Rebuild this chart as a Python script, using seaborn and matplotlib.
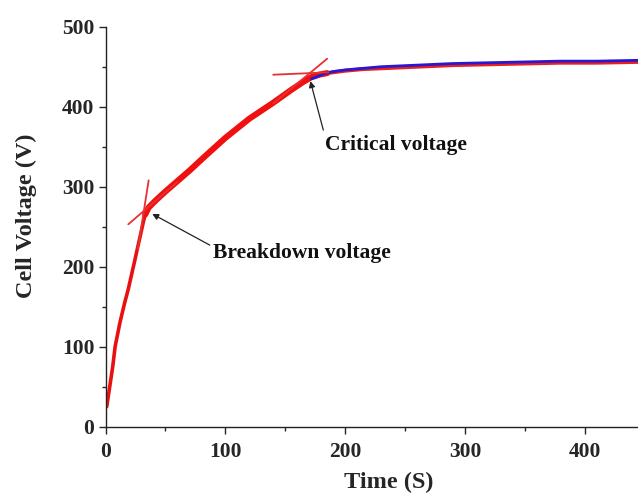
import matplotlib
matplotlib.use("Agg")
import matplotlib.pyplot as plt
import seaborn as sns
import pandas as pd
from matplotlib.ticker import MultipleLocator

# Data
red_time = [1, 3, 6, 8, 12, 16, 19, 24, 28, 31, 33, 36, 42, 50, 60, 70, 83, 100, 120, 140, 155, 165, 172,
            178, 185, 200, 215, 230, 260, 290, 320, 350, 380, 410, 445]
red_volt = [25, 45, 75, 100, 130, 155, 172, 205, 232, 252, 265, 274, 283, 294, 307, 320, 338, 361, 385, 405, 421, 431, 437,
            440, 442, 445, 447, 448, 450, 452, 453, 454, 455, 455, 456]
blue_time = [172, 176, 182, 190, 200, 215, 230, 260, 290, 320, 350, 380, 410, 445]
blue_volt = [435, 437, 441, 444, 446, 448, 450, 452, 454, 455, 456, 457, 457, 458]

# tangent construction lines (time, voltage)
bd_steep_t = [27, 36]
bd_steep_v = [222, 308]
bd_shallow_t = [19, 60]
bd_shallow_v = [253, 306]
cr_flat_t = [140, 186]
cr_flat_v = [440, 443]
cr_steep_t = [140, 185]
cr_steep_v = [404, 460]

x_ticks = [0, 100, 200, 300, 400]
y_ticks = [0, 100, 200, 300, 400, 500]

sns.set_theme(style="ticks")
plt.rcParams['font.family'] = ['Liberation Serif', 'DejaVu Serif']
plt.rcParams['font.weight'] = 'bold'

fig = plt.figure(figsize=(6.38, 4.95), dpi=100)
ax = fig.add_axes([0.1654, 0.138, 0.8346, 0.808])

red_df = pd.DataFrame({"t": red_time, "v": red_volt})
early = red_df[red_df.t <= 33]
mid = red_df[(red_df.t >= 33) & (red_df.t <= 185)]
late = red_df[red_df.t >= 185]
blue_df = pd.DataFrame({"t": blue_time, "v": blue_volt})

sns.lineplot(data=early, x="t", y="v", ax=ax, color="#e81010", lw=2.6, sort=False)
sns.lineplot(data=mid, x="t", y="v", ax=ax, color="#f01010", lw=4.4, sort=False,
             solid_capstyle='round')
sns.lineplot(data=late, x="t", y="v", ax=ax, color="#e82020", lw=2.8, sort=False)
sns.lineplot(data=blue_df, x="t", y="v", ax=ax, color="#2a18d0", lw=2.0, sort=False)

for tt, vv in [(bd_steep_t, bd_steep_v), (bd_shallow_t, bd_shallow_v),
               (cr_flat_t, cr_flat_v), (cr_steep_t, cr_steep_v)]:
    sns.lineplot(x=tt, y=vv, ax=ax, color="#e83030", lw=1.3, sort=False)

ax.annotate("Breakdown voltage", xy=(39, 266), xytext=(90, 217),
            fontsize=15.5, fontweight='bold', color='#111111', va='center', ha='left',
            arrowprops=dict(arrowstyle='-|>', color='#222222', lw=0.9,
                            mutation_scale=9, shrinkA=0, shrinkB=0,
                            relpos=(-0.02, 0.9)))
ax.annotate("Critical voltage", xy=(171, 432), xytext=(183, 352),
            fontsize=15.5, fontweight='bold', color='#111111', va='center', ha='left',
            arrowprops=dict(arrowstyle='-|>', color='#222222', lw=0.9,
                            mutation_scale=9, shrinkA=0, shrinkB=0,
                            relpos=(-0.01, 1.25)))

ax.set_xlim(0, 444.5)
ax.set_ylim(0, 500)
ax.set_xticks(x_ticks)
ax.set_yticks(y_ticks)
ax.xaxis.set_minor_locator(MultipleLocator(50))
ax.yaxis.set_minor_locator(MultipleLocator(50))
ax.tick_params(which='major', direction='out', length=5, width=1, labelsize=15.5, pad=3)
ax.tick_params(axis='x', which='major', pad=6)
ax.tick_params(which='minor', direction='out', length=3, width=1)
for lab in ax.get_xticklabels() + ax.get_yticklabels():
    lab.set_fontweight('bold')

sns.despine(ax=ax, top=True, right=True)
for s in ['left', 'bottom']:
    ax.spines[s].set_linewidth(1.0)
    ax.spines[s].set_color('#222222')

ax.set_xlabel("Time (S)", fontsize=17.5, fontweight='bold')
ax.set_ylabel("Cell Voltage (V)", fontsize=17.5, fontweight='bold')
ax.xaxis.set_label_coords(0.532, -0.113)
ax.yaxis.set_label_coords(-0.128, 0.527)

fig.savefig("out.png", dpi=100)
